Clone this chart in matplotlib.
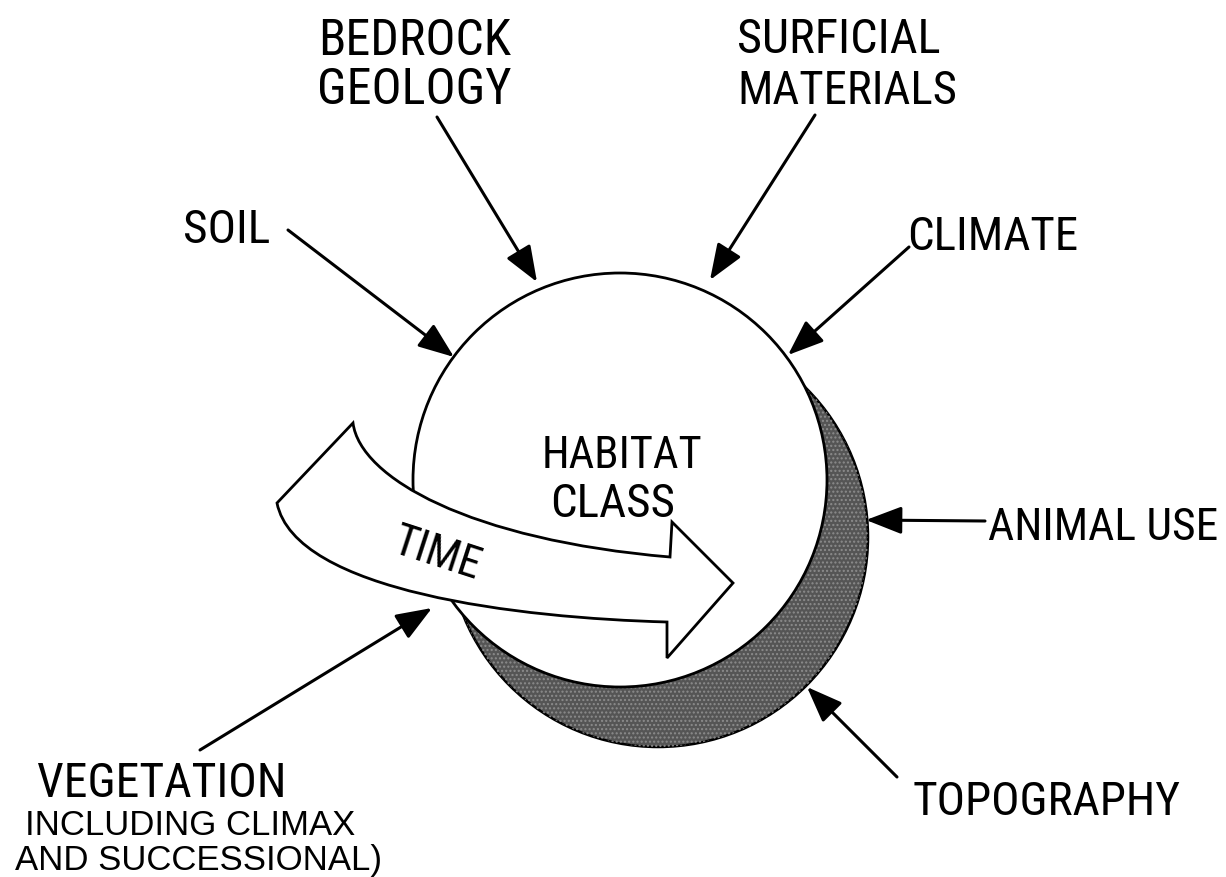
import matplotlib
matplotlib.use("Agg")
import matplotlib.pyplot as plt
from matplotlib.patches import Circle, PathPatch
from matplotlib.path import Path
from matplotlib import font_manager as fm

# ---------------- content ----------------
center_label = ["HABITAT", "CLASS"]
time_label = "TIME"
factor_lines = ["BEDROCK", "GEOLOGY", "SURFICIAL", "MATERIALS", "SOIL", "CLIMATE",
                "ANIMAL USE", "TOPOGRAPHY", "VEGETATION"]
note_lines = ["INCLUDING CLIMAX", "AND SUCCESSIONAL)"]

# ---------------- layout (pixel coordinates) ----------------
W, H = 1226, 877
factor_pos = [(318, 55), (317, 104), (737, 53), (737, 104), (183, 243), (907, 250),
              (988, 540), (913, 815), (37, 797)]
factor_width = [194, 200, 203, 220, 91, 171, 230, 279, 250]
factor_size = [36, 36, 36, 36, 34, 37, 37, 34, 36]
center_pos = [(542, 468), (550, 517)]
center_width = [161, 125]
note_pos = [(25, 835), (15, 870)]
note_width = [337, 370]

# arrows: (start, tip)
arrows = [((288, 230), (454, 357)),   # soil
          ((437, 117), (537, 282)),   # bedrock
          ((815, 115), (710, 280)),   # surficial
          ((909, 247), (788, 355)),   # climate
          ((985, 521), (866, 520)),   # animal use
          ((897, 777), (807, 687)),   # topography
          ((200, 750), (432, 608))]   # vegetation


def pick_condensed():
    cands = []
    for f in fm.fontManager.ttflist:
        st = str(f.stretch).lower()
        nm = f.name.lower()
        if ('condensed' in st or 'narrow' in nm or 'condensed' in nm) and \
                f.style == 'normal' and str(f.weight) in ('400', 'normal', 'regular', 'book'):
            if 'mono' in nm or 'serif' in nm and 'sans' not in nm:
                continue
            cands.append(f)
    pref = ['liberation sans narrow', 'roboto condensed', 'open sans condensed',
            'noto sans', 'dejavu sans']
    for p in pref:
        for f in cands:
            if f.name.lower().startswith(p):
                return fm.FontProperties(fname=f.fname)
    if cands:
        return fm.FontProperties(fname=cands[0].fname)
    return fm.FontProperties(family='Liberation Sans')


narrow_fp = pick_condensed()
regular_fp = fm.FontProperties(family='Liberation Sans')

fig = plt.figure(figsize=(W / 100, H / 100), dpi=100)
fig.patch.set_facecolor('white')
ax = fig.add_axes([0, 0, 1, 1])
ax.set_xlim(0, W)
ax.set_ylim(H, 0)
ax.axis('off')
renderer = fig.canvas.get_renderer()


def fit_size(txt, fp, target_w, max_fs):
    p = fp.copy()
    p.set_size(max_fs)
    t = ax.text(0, 0, txt, fontproperties=p)
    w = t.get_window_extent(renderer).width
    t.remove()
    return min(max_fs, max_fs * target_w / w)


def put(x, y, txt, fp, target_w, max_fs, **kw):
    p = fp.copy()
    p.set_size(fit_size(txt, fp, target_w, max_fs))
    ax.text(x, y, txt, fontproperties=p, color='black', zorder=5, **kw)


# shadow crescent
ax.add_patch(Circle((658, 537), 210, facecolor='#555555', edgecolor='black', lw=1.8, zorder=1))
ax.add_patch(Circle((658, 537), 210, facecolor='none', edgecolor='#8c8c8c', hatch='....',
                    lw=0, zorder=1.1))
# main circle
ax.add_patch(Circle((620, 480), 207, facecolor='white', edgecolor='black', lw=2.0, zorder=2))

# time arrow
verts = [(353, 423),
         (360, 478), (470, 540), (670, 557),
         (672, 522), (733, 583), (667, 658), (667, 622),
         (520, 618), (295, 592), (277, 503),
         (353, 423)]
codes = [Path.MOVETO,
         Path.CURVE4, Path.CURVE4, Path.CURVE4,
         Path.LINETO, Path.LINETO, Path.LINETO, Path.LINETO,
         Path.CURVE4, Path.CURVE4, Path.CURVE4,
         Path.CLOSEPOLY]
ax.add_patch(PathPatch(Path(verts, codes), facecolor='white', edgecolor='black', lw=2.0,
                       joinstyle='miter', zorder=3))

# factor arrows
for (s, t) in arrows:
    ax.annotate('', xy=t, xytext=s,
                arrowprops=dict(arrowstyle='-|>,head_length=2.2,head_width=0.85',
                                mutation_scale=10, lw=2.2, color='black',
                                shrinkA=0, shrinkB=0),
                zorder=4)

# texts
for txt, (x, y), w, fs in zip(factor_lines, factor_pos, factor_width, factor_size):
    put(x, y, txt, narrow_fp, w, fs, ha='left', va='baseline')
for txt, (x, y), w in zip(center_label, center_pos, center_width):
    put(x, y, txt, narrow_fp, w, 34, ha='left', va='baseline')
for txt, (x, y), w in zip(note_lines, note_pos, note_width):
    put(x, y, txt, regular_fp, w, 25, ha='left', va='baseline')
put(437, 554, time_label, narrow_fp, 92, 32, ha='center', va='center',
    rotation=-18, rotation_mode='anchor')

fig.savefig('out.png', dpi=100, facecolor='white')
